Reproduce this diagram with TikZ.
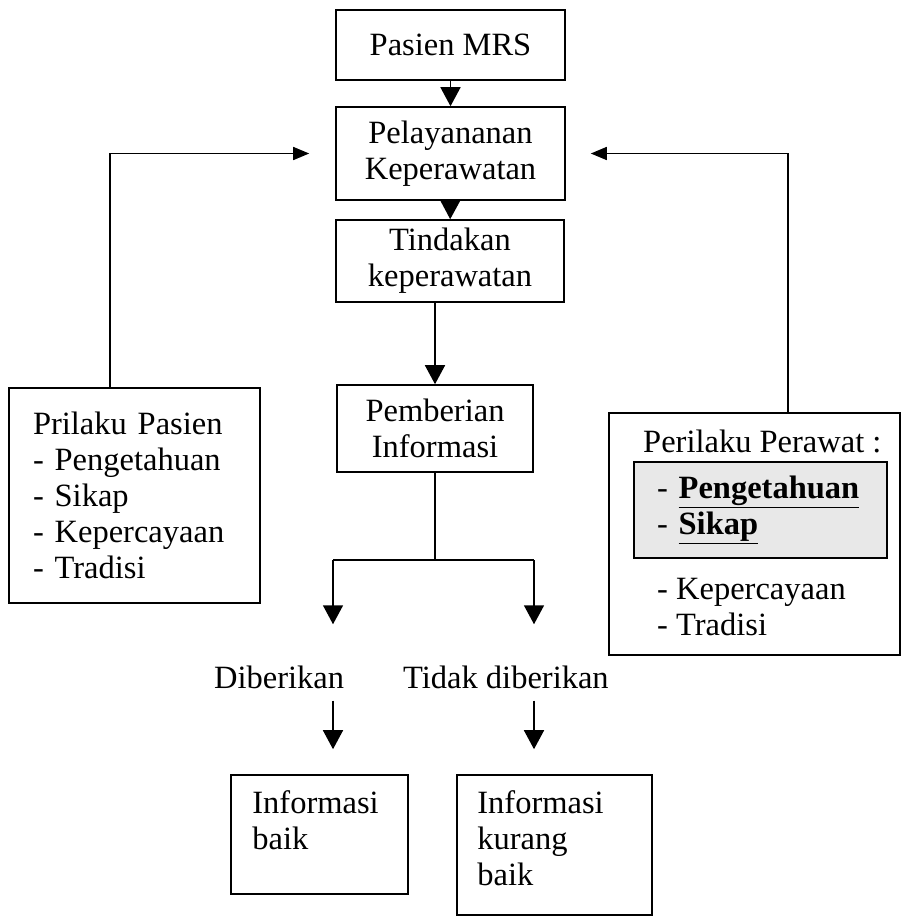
\documentclass[tikz,border=0pt]{standalone}
\usepackage{fontspec}
\setmainfont{Liberation Serif}
\usetikzlibrary{arrows.meta}
\begin{document}
\begin{tikzpicture}[x=1pt,y=-1pt,
  every node/.style={font=\fontsize{32.5}{36}\selectfont},
  box/.style={draw,line width=1.6pt,inner sep=0pt},
  garis/.style={line width=1.6pt},
  flow/.style={line width=1.6pt,-{Triangle[width=20pt,length=19pt]}},
  back/.style={line width=1.6pt,-{Triangle[width=13pt,length=16pt]}}]
\useasboundingbox (0,0) rectangle (903,918);
\node[box,minimum width=229pt,minimum height=70pt] (mrs) at (450.5,45) {Pasien MRS};
\node[box,minimum width=229pt,minimum height=93pt,align=center] (layan) at (450.5,153.5) {Pelayananan\\Keperawatan};
\node[box,minimum width=228pt,minimum height=82pt,align=center] (tindak) at (450,261) {Tindakan\\keperawatan};
\node[box,minimum width=196pt,minimum height=87pt,align=center] (beri) at (435,428.5) {Pemberian\\Informasi};
\node[box,minimum width=251pt,minimum height=215pt,align=left,text width=203pt] (pasien) at (134.5,495.5) {Prilaku Pasien\\- Pengetahuan\\- Sikap\\- Kepercayaan\\- Tradisi};
\node[box,minimum width=291pt,minimum height=242pt] (perawat) at (754.5,534) {};
\node[anchor=base west,inner sep=0pt] (judul) at (643,452) {Perilaku Perawat :};
\node[box,fill=black!9,minimum width=253pt,minimum height=96pt,align=left,text width=207pt] (utama) at (760.5,510) {- \textbf{\underline{Pengetahuan}}\\- \textbf{\underline{Sikap}}};
\node[anchor=north west,inner sep=0pt,align=left] (lain) at (657,578) {- Kepercayaan\\- Tradisi};
\node[anchor=base west,inner sep=0pt] (ya) at (214,688) {Diberikan};
\node[anchor=base west,inner sep=0pt] (tidak) at (403,688) {Tidak diberikan};
\node[box,minimum width=177pt,minimum height=119pt] (baik) at (319.5,834.5) {};
\node[anchor=north west,inner sep=0pt,align=left,xshift=22pt,yshift=-16pt] (baiktxt) at (baik.north west) {Informasi\\baik};
\node[box,minimum width=195pt,minimum height=140pt] (kurang) at (554.5,845) {};
\node[anchor=north west,inner sep=0pt,align=left,xshift=21pt,yshift=-16pt] (kurangtxt) at (kurang.north west) {Informasi\\kurang\\baik};
\coordinate (kiri) at (333,560);
\coordinate (kanan) at (534,560);
\coordinate (xkiri) at (110,0);
\coordinate (xkanan) at (788,0);
% alur utama
\draw[flow] (mrs) -- (layan);
\draw[flow] (layan) -- (tindak);
\draw[flow] (tindak.south -| beri.north) -- (beri.north);
\draw[garis] (beri.south) -- (beri.south |- kiri);
\draw[garis] (kiri) -- (kanan);
\draw[flow,shorten >=41pt] (kiri) -- (kiri |- ya.north);
\draw[flow,shorten >=41pt] (kanan) -- (kanan |- tidak.north);
\draw[flow,shorten <=12pt,shorten >=25pt] (ya.south -| kiri) -- (baik.north -| kiri);
\draw[flow,shorten <=12pt,shorten >=25pt] (tidak.south -| kanan) -- (kurang.north -| kanan);
% umpan balik
\draw[back,shorten >=26pt] (pasien.north -| xkiri) |- (layan.west);
\draw[back,shorten >=25pt] (perawat.north -| xkanan) |- (layan.east);
\end{tikzpicture}
\end{document}
